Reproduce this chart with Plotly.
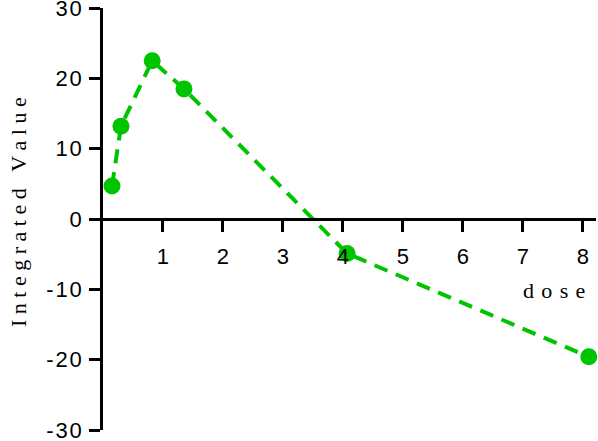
import plotly.graph_objects as go

dose = [0.15, 0.3, 0.82, 1.35, 4.07, 8.1]
integrated_value = [4.7, 13.2, 22.5, 18.5, -4.9, -19.6]

x_ticks = [1, 2, 3, 4, 5, 6, 7, 8]
y_ticks = [-30, -20, -10, 0, 10, 20, 30]

def spaced(s, sp):
    return sp.join(list(s))

green = "rgb(0,196,0)"

fig = go.Figure()
fig.add_trace(go.Scatter(
    x=dose, y=integrated_value, mode="lines+markers",
    line=dict(color=green, width=4, dash="14px,9px"),
    marker=dict(color=green, size=17),
    cliponaxis=False, showlegend=False,
))

tickfont = dict(family="Liberation Sans, Arial, sans-serif", size=22, color="black")
serif = dict(family="Liberation Serif, Times New Roman, serif", size=22, color="black")

fig.update_layout(
    width=598, height=441,
    margin=dict(l=103, r=2, t=8, b=11, autoexpand=False),
    paper_bgcolor="white", plot_bgcolor="white",
    xaxis=dict(
        range=[0, 8.22], anchor="free", position=0.5, automargin=False,
        showline=True, linecolor="black", linewidth=2.5,
        ticks="outside", ticklen=11, tickwidth=2.5, tickcolor="black",
        tickvals=x_ticks, ticktext=[str(v) for v in x_ticks],
        tickfont=tickfont, showgrid=False, zeroline=False,
        ticklabelstandoff=6, ticklabeloverflow="allow",
    ),
    yaxis=dict(
        range=[-30, 30], automargin=False,
        showline=True, linecolor="black", linewidth=2.5,
        ticks="outside", ticklen=11, tickwidth=2.5, tickcolor="black",
        tickvals=y_ticks, ticktext=[spaced(str(v), "\u200a") for v in y_ticks],
        tickfont=tickfont, showgrid=False, zeroline=False,
        ticklabelstandoff=3, ticklabeloverflow="allow",
    ),
    annotations=[
        dict(text=spaced("Integrated Value", "\u2005"), xref="paper", yref="paper",
             x=0, y=0.5, xshift=-85, yshift=7, textangle=-90,
             xanchor="center", yanchor="middle", showarrow=False, font=serif),
        dict(text=spaced("dose", "\u2004"), xref="x", yref="y",
             x=8.07, y=-10.1, xanchor="right", yanchor="middle", showarrow=False, font=serif),
    ],
)

fig.write_html("out.html", config={"displayModeBar": False},
               post_script="document.body.style.margin='0';document.body.style.overflow='hidden';")
